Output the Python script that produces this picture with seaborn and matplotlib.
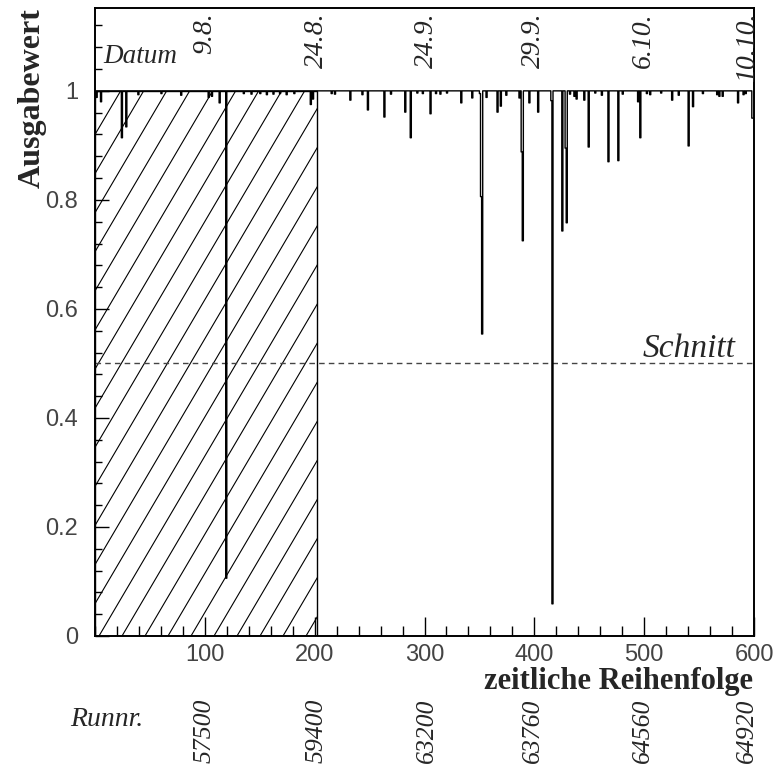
import numpy as np
import pandas as pd
import matplotlib
matplotlib.use("Agg")
import matplotlib.pyplot as plt
import matplotlib.transforms as mtransforms
import seaborn as sns
from matplotlib.collections import LineCollection
from matplotlib.patches import Rectangle
from matplotlib.ticker import MultipleLocator, FixedLocator

# ---- data -----------------------------------------------------------------
n_runs = 600                      # runs in chronological order
# runs whose network output falls below 1 (index, output)
dip_index = [1, 5, 24, 28, 39, 60, 78, 103, 106, 113, 119, 135, 142, 150, 156,
             162, 168, 174, 181, 196, 198,
             215, 218, 232, 243, 248, 263, 269, 282, 287, 293, 298, 305, 310,
             314, 320, 333, 343, 350, 351, 352, 356, 366, 369, 374, 386, 388,
             389, 395, 403, 415, 416, 425, 428, 429, 432, 436, 438, 445, 449,
             455, 461, 467, 476, 480, 494, 496, 502, 505, 515, 525, 531, 540,
             544, 553, 566, 568, 571, 585, 590, 592, 598, 599]
dip_value = [0.988, 0.980, 0.914, 0.934, 0.993, 0.995, 0.992, 0.988, 0.990,
             0.978, 0.106, 0.995, 0.994, 0.995, 0.993, 0.994, 0.995, 0.993,
             0.995, 0.975, 0.985,
             0.995, 0.994, 0.983, 0.993, 0.965, 0.952, 0.994, 0.961, 0.914,
             0.996, 0.995, 0.958, 0.995, 0.994, 0.996, 0.978, 0.987, 0.995,
             0.806, 0.554, 0.988, 0.961, 0.972, 0.992, 0.987, 0.888, 0.725,
             0.978, 0.961, 0.982, 0.059, 0.743, 0.895, 0.758, 0.994, 0.990,
             0.985, 0.983, 0.897, 0.996, 0.992, 0.870, 0.872, 0.994, 0.980,
             0.914, 0.995, 0.993, 0.996, 0.983, 0.992, 0.899, 0.971, 0.995,
             0.993, 0.990, 0.990, 0.978, 0.993, 0.995, 0.950, 0.950]

date_pos = [100, 202, 302, 399, 499, 594]
date_labels = ["9.8.", "24.8.", "24.9.", "29.9.", "6.10.", "10.10."]
run_labels = ["57500", "59400", "63200", "63760", "64560", "64920"]
cut_value = 0.5                   # selection cut on the network output
training_end = 202                # runs used for training (hatched)

# ---- build histogram outline -----------------------------------------------
output = np.ones(n_runs)
output[dip_index] = dip_value
edges = np.arange(n_runs + 1)
df = pd.DataFrame({"run": edges, "output": np.append(output, output[-1])})

# ---- figure ----------------------------------------------------------------
sns.set_theme(style="ticks")
plt.rcParams["font.family"] = ["Liberation Sans", "DejaVu Sans"]
serif = ["Liberation Serif", "DejaVu Serif"]

W, H = 773, 767
fig = plt.figure(figsize=(W / 100, H / 100), dpi=100)
fig.patch.set_facecolor("white")
ax_l, ax_r, ax_t, ax_b = 95, 754, 8, 636
ax = fig.add_axes([ax_l / W, 1 - ax_b / H, (ax_r - ax_l) / W, (ax_b - ax_t) / H])
ax.set_facecolor("white")

ymax = 1.152
ax.set_xlim(0, n_runs)
ax.set_ylim(0, ymax)

sns.lineplot(data=df, x="run", y="output", ax=ax, color="black", lw=1.0,
             drawstyle="steps-post", estimator=None, legend=False, zorder=3)

# hatched training region
rect = Rectangle((0, 0), training_end, 1, fill=False, edgecolor="black",
                 lw=1.0, zorder=2)
ax.add_patch(rect)
px_x = (ax_r - ax_l) / n_runs
px_y = (ax_b - ax_t) / ymax
slope_px, spacing_px, first_px = 1.7, 23.0, 4.0
slope = slope_px * px_x / px_y
run = 1.0 / slope
spacing = spacing_px / px_x
starts = np.arange(first_px / px_x - spacing * np.ceil(run / spacing),
                   training_end, spacing)
segs = [[(s, 0), (s + run, 1)] for s in starts]
lc = LineCollection(segs, colors="black", linewidths=0.8, zorder=2)
ax.add_collection(lc)
lc.set_clip_path(rect)

# cut line
ax.axhline(cut_value, color="#444444", lw=1.0, ls=(0, (4, 3)), zorder=2)
ax.text(583, cut_value + 0.012, "Schnitt", family=serif, style="italic",
        fontsize=24, ha="right", va="baseline")

# axes styling
for sp in ax.spines.values():
    sp.set_linewidth(1.4)
    sp.set_color("black")
ax.xaxis.set_major_locator(FixedLocator([100, 200, 300, 400, 500, 600]))
ax.xaxis.set_minor_locator(MultipleLocator(20))
ax.yaxis.set_major_locator(FixedLocator([0, 0.2, 0.4, 0.6, 0.8, 1.0]))
ax.yaxis.set_minor_locator(MultipleLocator(0.04))
ax.set_yticklabels(["0", "0.2", "0.4", "0.6", "0.8", "1"])
ax.tick_params(axis="both", which="both", direction="in", top=False,
               right=False, colors="black", labelcolor="#444444",
               labelsize=17)
ax.tick_params(axis="x", which="major", length=14, width=1.0, pad=5.5)
ax.tick_params(axis="x", which="minor", length=7, width=1.0)
ax.tick_params(axis="y", which="major", length=10, width=1.0, pad=12)
ax.tick_params(axis="y", which="minor", length=5, width=1.0)
ax.set_xlabel("")
ax.set_ylabel("")

# axis titles
fig.text(32 / W, 1 - 8 / H, "Ausgabewert", rotation=90, family=serif,
         fontweight="bold", fontsize=23, ha="center", va="top")
fig.text(753 / W, 1 - 689 / H, "zeitliche Reihenfolge", family=serif,
         fontweight="bold", fontsize=22, ha="right", va="baseline")

# date and run number annotations
blend = mtransforms.blended_transform_factory(ax.transData, fig.transFigure)
for x, d, r in zip(date_pos, date_labels, run_labels):
    fig.text(x, 1 - 12 / H, d, rotation=90, family=serif, style="italic",
             fontsize=20, ha="center", va="top", transform=blend)
    fig.text(x, 1 - 699 / H, r, rotation=90, family=serif, style="italic",
             fontsize=18.5, ha="center", va="top", transform=blend)
fig.text(143 / W, 1 - 726 / H, "Runnr.", family=serif, style="italic",
         fontsize=20, ha="right", va="baseline")
fig.text(103 / W, 1 - 63 / H, "Datum", family=serif, style="italic",
         fontsize=19.5, ha="left", va="baseline")

fig.savefig("out.png", dpi=100, facecolor="white")
